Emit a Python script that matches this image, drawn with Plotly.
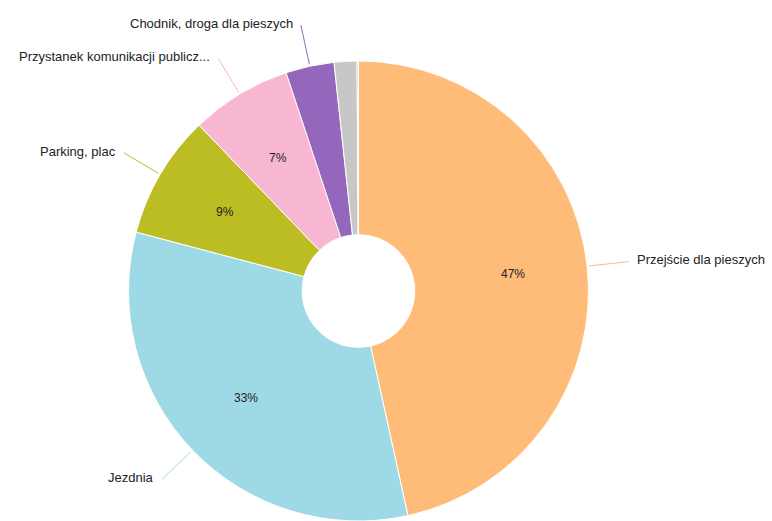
import math
import plotly.graph_objects as go

# Miejsce zdarzenia – udział w liczbie zdarzeń
labels = [
    "Przejście dla pieszych",
    "Jezdnia",
    "Parking, plac",
    "Przystanek komunikacji publicz...",
    "Chodnik, droga dla pieszych",
    "Pobocze",
    "Inne",
]
values = [466, 326, 87, 71, 34, 16, 1]
colors = ["#ffbb78", "#9edae5", "#bcbd22", "#f7b6d2", "#9467bd", "#c7c7c7", "#aec7e8"]
show_name = [True, True, True, True, True, False, False]

W, H = 772, 521
CX, CY = 358.5, 291.0          # pie centre in pixels (from top-left)
R = 230.0                      # outer radius in pixels
HOLE = 0.245
FONT = "Arial, Liberation Sans, sans-serif"

dom_x = [(CX - R) / W, (CX + R) / W]
dom_y = [0.0, 2 * R / H]

fig = go.Figure(
    go.Pie(
        labels=labels,
        values=values,
        marker=dict(colors=colors, line=dict(color="white", width=1)),
        hole=HOLE,
        sort=False,
        direction="clockwise",
        rotation=0,
        textinfo="none",
        hoverinfo="label+percent",
        showlegend=False,
        domain=dict(x=dom_x, y=dom_y),
    )
)


def to_paper(r, ang):
    a = math.radians(ang)
    x = CX + r * math.sin(a)
    y = CY - r * math.cos(a)
    return x / W, 1 - y / H


total = sum(values)
annotations = []
shapes = []
start = 0.0
for lab, v, col, named in zip(labels, values, colors, show_name):
    span = v / total * 360.0
    mid = start + span / 2
    pct = v / total * 100
    if pct >= 5:
        px, py = to_paper(R * 0.675, mid)
        annotations.append(dict(
            x=px, y=py, xref="paper", yref="paper", text=f"{round(pct)}%",
            showarrow=False, font=dict(family=FONT, size=12, color="#222222"),
            xanchor="center", yanchor="middle",
        ))
    if named:
        x0, y0 = to_paper(R + 2, mid)
        x1, y1 = to_paper(R + 42, mid)
        shapes.append(dict(
            type="line", xref="paper", yref="paper", x0=x0, y0=y0, x1=x1, y1=y1,
            line=dict(color=col, width=1),
        ))
        right = math.sin(math.radians(mid)) >= 0
        annotations.append(dict(
            x=x1, y=y1, xref="paper", yref="paper", text=lab, showarrow=False,
            font=dict(family=FONT, size=13, color="#222222"),
            xanchor="left" if right else "right", yanchor="middle",
            xshift=6 if right else -6, yshift=2,
        ))
    start += span

fig.update_layout(
    width=W,
    height=H,
    margin=dict(l=0, r=0, t=0, b=0),
    paper_bgcolor="white",
    plot_bgcolor="white",
    annotations=annotations,
    shapes=shapes,
)

fig.write_html("out.html")
